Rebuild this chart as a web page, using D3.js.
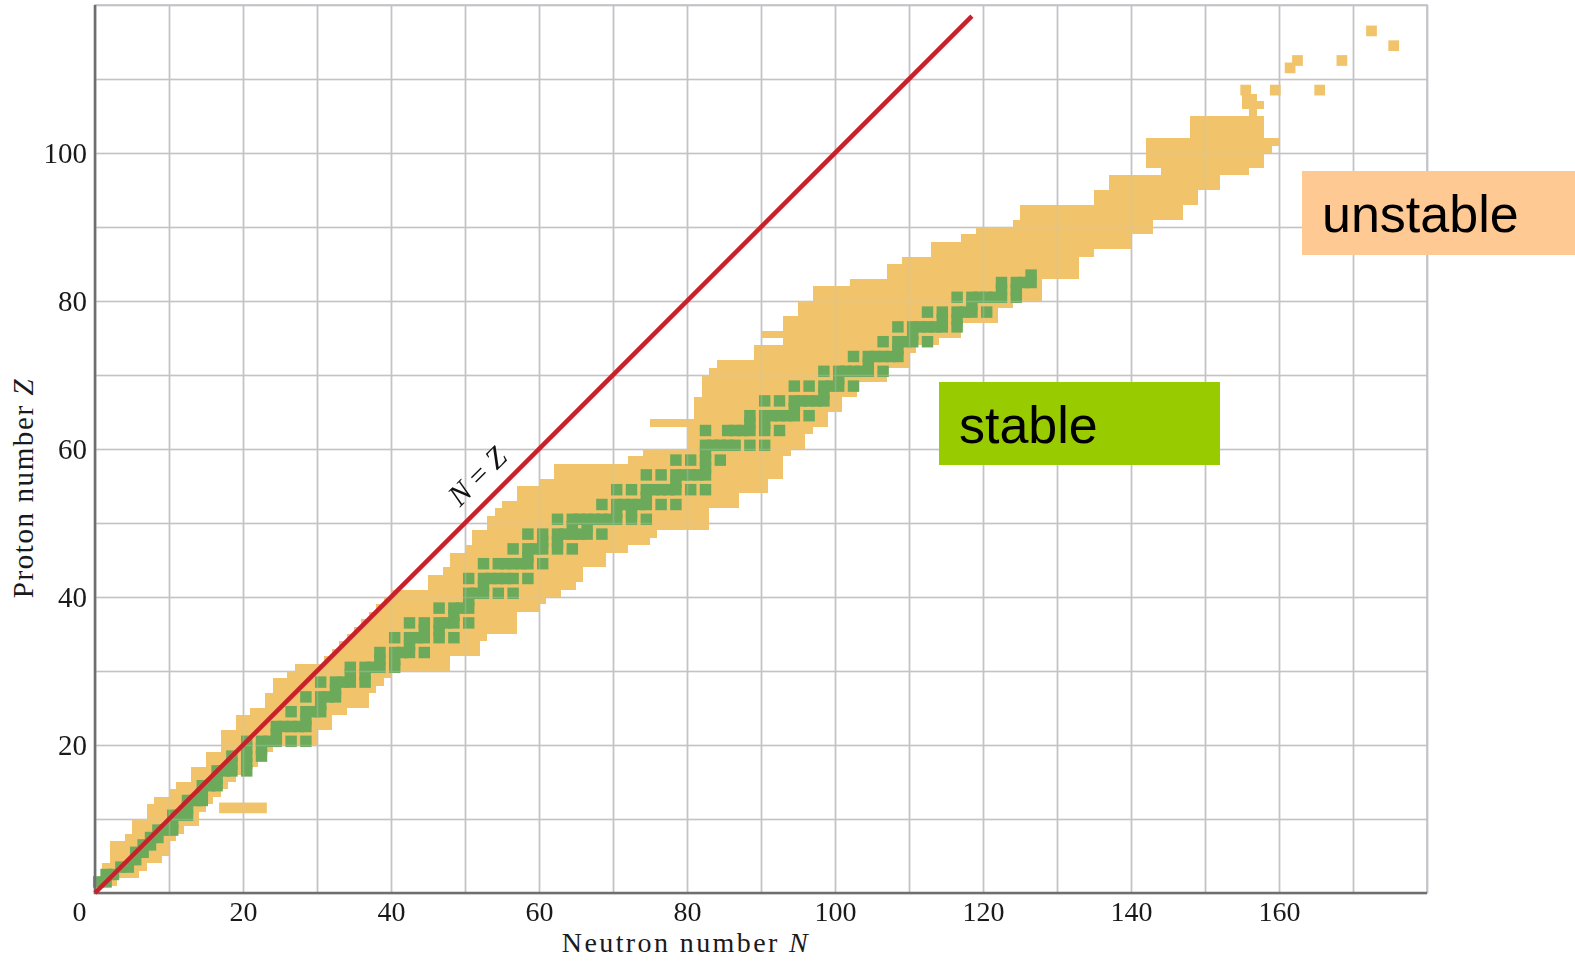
<!DOCTYPE html>
<html>
<head>
<meta charset="utf-8">
<script src="https://cdn.jsdelivr.net/npm/d3@7"></script>
<style>
  html, body { margin: 0; padding: 0; background: #fff; }
  svg { display: block; }
</style>
</head>
<body>
<div id="chart"></div>
<script>
const xTickValues = [0, 20, 40, 60, 80, 100, 120, 140, 160];
const yTickValues = [20, 40, 60, 80, 100];

// unstable band, one row per proton number Z: first and last neutron number N
const bandZ = [
  1, 2, 3, 4, 5, 6, 7, 8, 9, 10, 11, 12, 13, 14, 15, 16, 17, 18, 19, 20,
  21, 22, 23, 24, 25, 26, 27, 28, 29, 30, 31, 32, 33, 34, 35, 36, 37, 38, 39, 40,
  41, 42, 43, 44, 45, 46, 47, 48, 49, 50, 51, 52, 53, 54, 55, 56, 57, 58, 59, 60,
  61, 62, 63, 64, 65, 66, 67, 68, 69, 70, 71, 72, 73, 74, 75, 76, 77, 78, 79, 80,
  81, 82, 83, 84, 85, 86, 87, 88, 89, 90, 91, 92, 93, 94, 95, 96, 97, 98, 99, 100,
  101, 102, 103, 104, 105, 106, 107
];
const bandNmin = [
  0, 1, 1, 2, 2, 2, 4, 5, 5, 7, 7, 8, 10, 11, 13, 13, 15, 15, 17, 17,
  17, 19, 19, 21, 23, 23, 24, 24, 26, 27, 31, 32, 33, 34, 35, 36, 37, 38, 39, 40,
  45, 45, 47, 48, 48, 50, 51, 51, 53, 53, 54, 55, 57, 57, 60, 62, 62, 72, 74, 80,
  80, 80, 75, 81, 81, 81, 82, 82, 82, 83, 84, 89, 89, 93, 90, 93, 93, 95, 95, 97,
  97, 102, 107, 107, 109, 113, 113, 117, 119, 124, 125, 125, 135, 135, 137, 137, 144, 142, 142, 142,
  142, 148, 148, 148, 156, 155, 155
];
const bandNmax = [
  2, 5, 6, 8, 9, 9, 10, 11, 13, 13, 14, 15, 16, 17, 18, 20, 21, 22, 23, 29,
  29, 31, 31, 33, 36, 36, 37, 38, 39, 47, 47, 51, 51, 52, 56, 56, 56, 59, 60, 62,
  64, 65, 65, 68, 68, 71, 74, 75, 82, 82, 82, 86, 86, 90, 90, 92, 92, 92, 93, 95,
  95, 96, 98, 98, 100, 100, 102, 102, 106, 106, 109, 109, 110, 113, 116, 116, 121, 121, 123, 127,
  127, 127, 132, 132, 132, 134, 139, 139, 142, 142, 146, 146, 148, 148, 151, 151, 155, 157, 157, 158,
  159, 157, 157, 157, 156, 157, 156
];

// pieces sticking out of the band and the isolated heavy nuclides
const extraZ = [11, 108, 108, 108, 111, 112, 112, 114, 116];
const extraNmin = [17, 155, 159, 165, 161, 162, 168, 175, 172];
const extraNmax = [22, 155, 159, 165, 161, 162, 168, 175, 172];

// stable nuclides: neutron numbers for Z = 1, 2, 3, ...
const stableN = [
  [0, 1], [1, 2], [3, 4], [5], [5, 6], [6, 7], [7, 8], [8, 9, 10], [10], [10, 11, 12],
  [12], [12, 13, 14], [14], [14, 15, 16], [16], [16, 17, 18, 20], [18, 20], [18, 20, 22], [20, 22], [20, 22, 23, 24, 26, 28],
  [24], [24, 25, 26, 27, 28], [28], [26, 28, 29, 30], [30], [28, 30, 31, 32], [32], [30, 32, 33, 34, 36], [34, 36], [34, 36, 37, 38, 40],
  [38, 40], [38, 40, 41, 42, 44], [42], [40, 42, 43, 44, 46, 48], [44, 46], [42, 44, 46, 47, 48, 50], [48], [46, 48, 49, 50], [50], [50, 51, 52, 54, 56],
  [52], [50, 52, 53, 54, 55, 56, 58], [], [52, 54, 55, 56, 57, 58, 60], [58], [56, 58, 59, 60, 62, 64], [60, 62], [58, 60, 62, 63, 64, 65, 66, 68], [64, 66], [62, 64, 65, 66, 67, 68, 69, 70, 72, 74],
  [70, 72], [68, 70, 71, 72, 73, 74, 76, 78], [74], [70, 72, 74, 75, 76, 77, 78, 80, 82], [78], [74, 76, 78, 79, 80, 81, 82], [82], [78, 80, 82, 84], [82], [82, 83, 84, 85, 86, 88, 90],
  [], [82, 85, 86, 87, 88, 90, 92], [88, 90], [88, 90, 91, 92, 93, 94, 96], [94], [90, 92, 94, 95, 96, 97, 98], [98], [94, 96, 98, 99, 100, 102], [100], [98, 100, 101, 102, 103, 104, 106],
  [104], [102, 104, 105, 106, 107, 108], [108], [106, 108, 109, 110, 112], [110], [108, 110, 111, 112, 113, 114, 116], [114, 116], [112, 114, 116, 117, 118, 120], [118], [116, 118, 119, 120, 121, 122, 124],
  [122, 124], [122, 124, 125, 126], [126]
];

const width = 1575;
const height = 961;
const margin = { top: 5, right: 148, bottom: 68, left: 95 };
const plotW = width - margin.left - margin.right;
const plotH = height - margin.top - margin.bottom;

const unstableColor = '#f1c46c';
const stableColor = '#6caa5b';
const gridColor = '#c2c2c8';
const serif = '"Liberation Serif", "Times New Roman", serif';
// the printed squares come out a little larger than one unit
const cellScale = 1.55;

const svg = d3.select('#chart').append('svg')
  .attr('width', width)
  .attr('height', height)
  .style('background', '#fff');

const x = d3.scaleLinear().domain([0, 180]).range([margin.left, margin.left + plotW]);
const y = d3.scaleLinear().domain([0, 120]).range([margin.top + plotH, margin.top]);
const unit = x(1) - x(0);

function drawGrid(opacity) {
  const g = svg.append('g').attr('opacity', opacity);
  g.append('g')
    .attr('transform', `translate(0,${y(0)})`)
    .call(d3.axisBottom(x).tickValues(d3.range(0, 181, 10)).tickSize(-plotH).tickFormat(''))
    .call(s => s.select('.domain').remove());
  g.append('g')
    .attr('transform', `translate(${x(0)},0)`)
    .call(d3.axisLeft(y).tickValues(d3.range(0, 121, 10)).tickSize(-plotW).tickFormat(''))
    .call(s => s.select('.domain').remove());
  g.selectAll('.tick line')
    .attr('stroke', gridColor)
    .attr('stroke-width', 1.6);
  return g;
}

drawGrid(1);

// band rows
const rows = bandZ.map((z, i) => ({ z, n0: bandNmin[i], n1: bandNmax[i] }));
const extras = extraZ.map((z, i) => ({ z, n0: extraNmin[i], n1: extraNmax[i] }));
const pad = (cellScale - 1) / 2;
const padX = (1.45 - 1) / 2;

svg.append('g').selectAll('rect')
  .data(rows)
  .enter()
  .append('rect')
  .attr('x', d => x(d.n0))
  .attr('y', d => y(d.z + 1))
  .attr('width', d => x(d.n1 + 1) - x(d.n0))
  .attr('height', d => y(d.z) - y(d.z + 1))
  .attr('fill', unstableColor)
  .attr('shape-rendering', 'crispEdges');

svg.append('g').selectAll('rect')
  .data(extras)
  .enter()
  .append('rect')
  .attr('x', d => x(d.n0 - padX))
  .attr('y', d => y(d.z + 1 + padX))
  .attr('width', d => x(d.n1 + 1 + padX) - x(d.n0 - padX))
  .attr('height', d => y(d.z - padX) - y(d.z + 1 + padX))
  .attr('fill', unstableColor);

const stable = [];
stableN.forEach((list, i) => list.forEach(n => stable.push({ n, z: i + 1 })));

svg.append('g').selectAll('rect')
  .data(stable)
  .enter()
  .append('rect')
  .attr('x', d => x(d.n - pad))
  .attr('y', d => y(d.z + 1 + pad))
  .attr('width', unit * cellScale)
  .attr('height', unit * cellScale)
  .attr('fill', stableColor);

// faint grid over the nuclides, as in the print
drawGrid(0.35);

// frame
svg.append('rect')
  .attr('x', x(0)).attr('y', y(120))
  .attr('width', plotW).attr('height', plotH)
  .attr('fill', 'none')
  .attr('stroke', gridColor)
  .attr('stroke-width', 1.6);
svg.append('path')
  .attr('d', `M${x(0)},${y(120)}V${y(0)}H${x(180)}`)
  .attr('fill', 'none')
  .attr('stroke', '#6f6f6f')
  .attr('stroke-width', 2.6);

// N = Z line
const diag = [[0, 0], [118.5, 118.5]];
svg.append('path')
  .datum(diag)
  .attr('d', d3.line().x(d => x(d[0])).y(d => y(d[1])))
  .attr('fill', 'none')
  .attr('stroke', '#c9202b')
  .attr('stroke-width', 4.5);

const lab = svg.append('text')
  .attr('transform', `translate(${x(54) - 18},${y(54) - 18}) rotate(-45)`)
  .attr('text-anchor', 'middle')
  .attr('dominant-baseline', 'central')
  .style('font-family', serif)
  .style('font-size', '30px')
  .attr('fill', '#111');
lab.append('tspan').style('font-style', 'italic').text('N');
lab.append('tspan').text(' = ');
lab.append('tspan').style('font-style', 'italic').text('Z');

// axes labels
const xAxis = svg.append('g')
  .attr('transform', `translate(0,${y(0)})`)
  .call(d3.axisBottom(x).tickValues(xTickValues).tickSize(0).tickPadding(8).tickFormat(d3.format('d')));
xAxis.select('.domain').remove();
xAxis.selectAll('text')
  .style('font-family', serif)
  .style('font-size', '28px')
  .attr('fill', '#1a1a1a')
  .attr('dx', d => (d === 0 ? -16 : 0));

const yAxis = svg.append('g')
  .attr('transform', `translate(${x(0)},0)`)
  .call(d3.axisLeft(y).tickValues(yTickValues).tickSize(0).tickPadding(8).tickFormat(d3.format('d')));
yAxis.select('.domain').remove();
yAxis.selectAll('text')
  .style('font-family', serif)
  .style('font-size', '29px')
  .attr('fill', '#1a1a1a');

const xTitle = svg.append('text')
  .attr('x', 686)
  .attr('y', 952)
  .attr('text-anchor', 'middle')
  .style('font-family', serif)
  .style('font-size', '28px')
  .style('letter-spacing', '2.4px')
  .attr('fill', '#1a1a1a');
xTitle.append('tspan').text('Neutron number ');
xTitle.append('tspan').style('font-style', 'italic').text('N');

const yTitle = svg.append('text')
  .attr('transform', 'translate(33,488) rotate(-90)')
  .attr('text-anchor', 'middle')
  .style('font-family', serif)
  .style('font-size', '29px')
  .style('letter-spacing', '1.6px')
  .attr('fill', '#1a1a1a');
yTitle.append('tspan').text('Proton number ');
yTitle.append('tspan').style('font-style', 'italic').text('Z');

// the two labels
const boxes = [
  { text: 'unstable', fill: '#ffc993', x: 1302, y: 171, w: 273, h: 84 },
  { text: 'stable', fill: '#99cc00', x: 939, y: 382, w: 281, h: 83 }
];
const box = svg.append('g').selectAll('g')
  .data(boxes)
  .enter()
  .append('g')
  .attr('transform', d => `translate(${d.x},${d.y})`);
box.append('rect')
  .attr('width', d => d.w)
  .attr('height', d => d.h)
  .attr('fill', d => d.fill);
box.append('text')
  .attr('x', 20)
  .attr('y', d => d.h / 2 + 19)
  .style('font-family', '"Liberation Sans", Arial, sans-serif')
  .style('font-size', '52px')
  .attr('fill', '#000')
  .text(d => d.text);
</script>
</body>
</html>
